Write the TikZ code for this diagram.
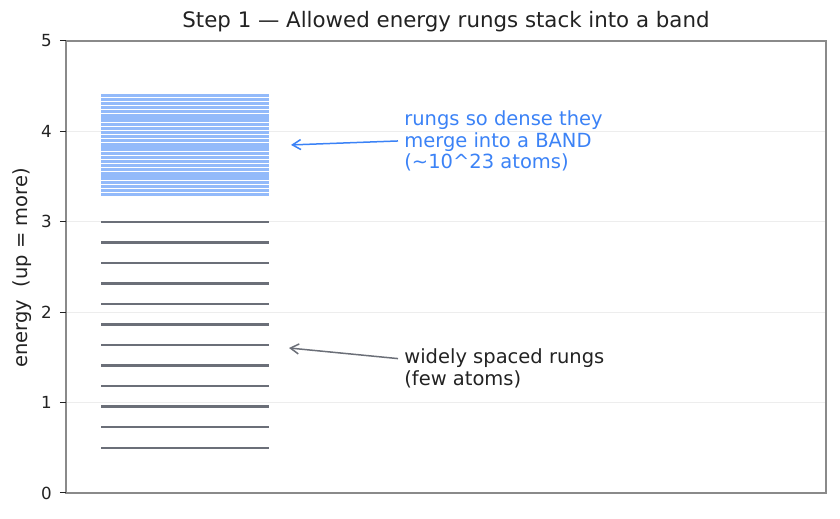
\documentclass[tikz,border=0pt]{standalone}
\usepackage{fontspec}
\setmainfont{DejaVu Sans}
\usetikzlibrary{arrows.meta}
\definecolor{bandblue}{HTML}{93BAFA}
\definecolor{noteblue}{HTML}{3B82F6}
\definecolor{runggray}{HTML}{6B6F78}
\definecolor{spinegray}{HTML}{8A8A8A}
\definecolor{inkdark}{HTML}{222222}
\tikzset{
  rung/.style={runggray, line width=1.5pt},
  bandrung/.style={bandblue, line width=2pt},
  note/.style={anchor=west, align=left, inner sep=3.6pt, font=\fontsize{11.7}{13.1}\selectfont},
  pointer/.style={->, line width=0.9pt},
}
\begin{document}
\begin{tikzpicture}[x=0.6pt, y=54.24pt, >={Straight Barb[length=5pt,width=6pt]}, inkdark]
\useasboundingbox (-66,-0.2876) rectangle (774,5.4535);
% grid
\foreach \e in {1,...,4}
  \draw[black!7, line width=0.5pt] (0,\e) -- (760,\e);
% widely spaced rungs
\foreach \i in {0,...,11}
  \draw[rung] (35,{0.5+\i*2.5/11}) -- (203,{0.5+\i*2.5/11});
% dense rungs -> band
\foreach \i in {0,...,24}
  \draw[bandrung] (35,{3.3+\i*1.1/24}) -- (203,{3.3+\i*1.1/24});
% axes
\draw[spinegray, line width=0.8pt] (0,0) rectangle (760,5);
\foreach \e in {0,...,5} {
  \draw[inkdark, line width=0.6pt] (-6,\e) -- (0,\e);
  \node[anchor=east, inner sep=0pt, font=\fontsize{10}{12}\selectfont] (tick\e) at (-14,\e) {\e};
}
\node[rotate=90, font=\fontsize{11.7}{13}\selectfont] (ylabel) at (-44,2.49) {energy\ \ (up = more)};
\node[font=\fontsize{12.8}{15}\selectfont] (title) at (380,5.21) {Step 1 — Allowed energy rungs stack into a band};
% annotations
\node[note, noteblue] (bandnote) at (332,3.894) {rungs so dense they\\merge into a BAND\\(\textasciitilde 10\textasciicircum 23 atoms)};
\coordinate (bandtip) at (225,3.85);
\draw[pointer, noteblue] (bandnote.west) -- (bandtip);
\node[note] (spacednote) at (332,1.376) {widely spaced rungs\\(few atoms)};
\coordinate (spacedtip) at (223,1.604);
\draw[pointer, runggray] ([yshift=6pt]spacednote.west) -- (spacedtip);
\end{tikzpicture}
\end{document}
